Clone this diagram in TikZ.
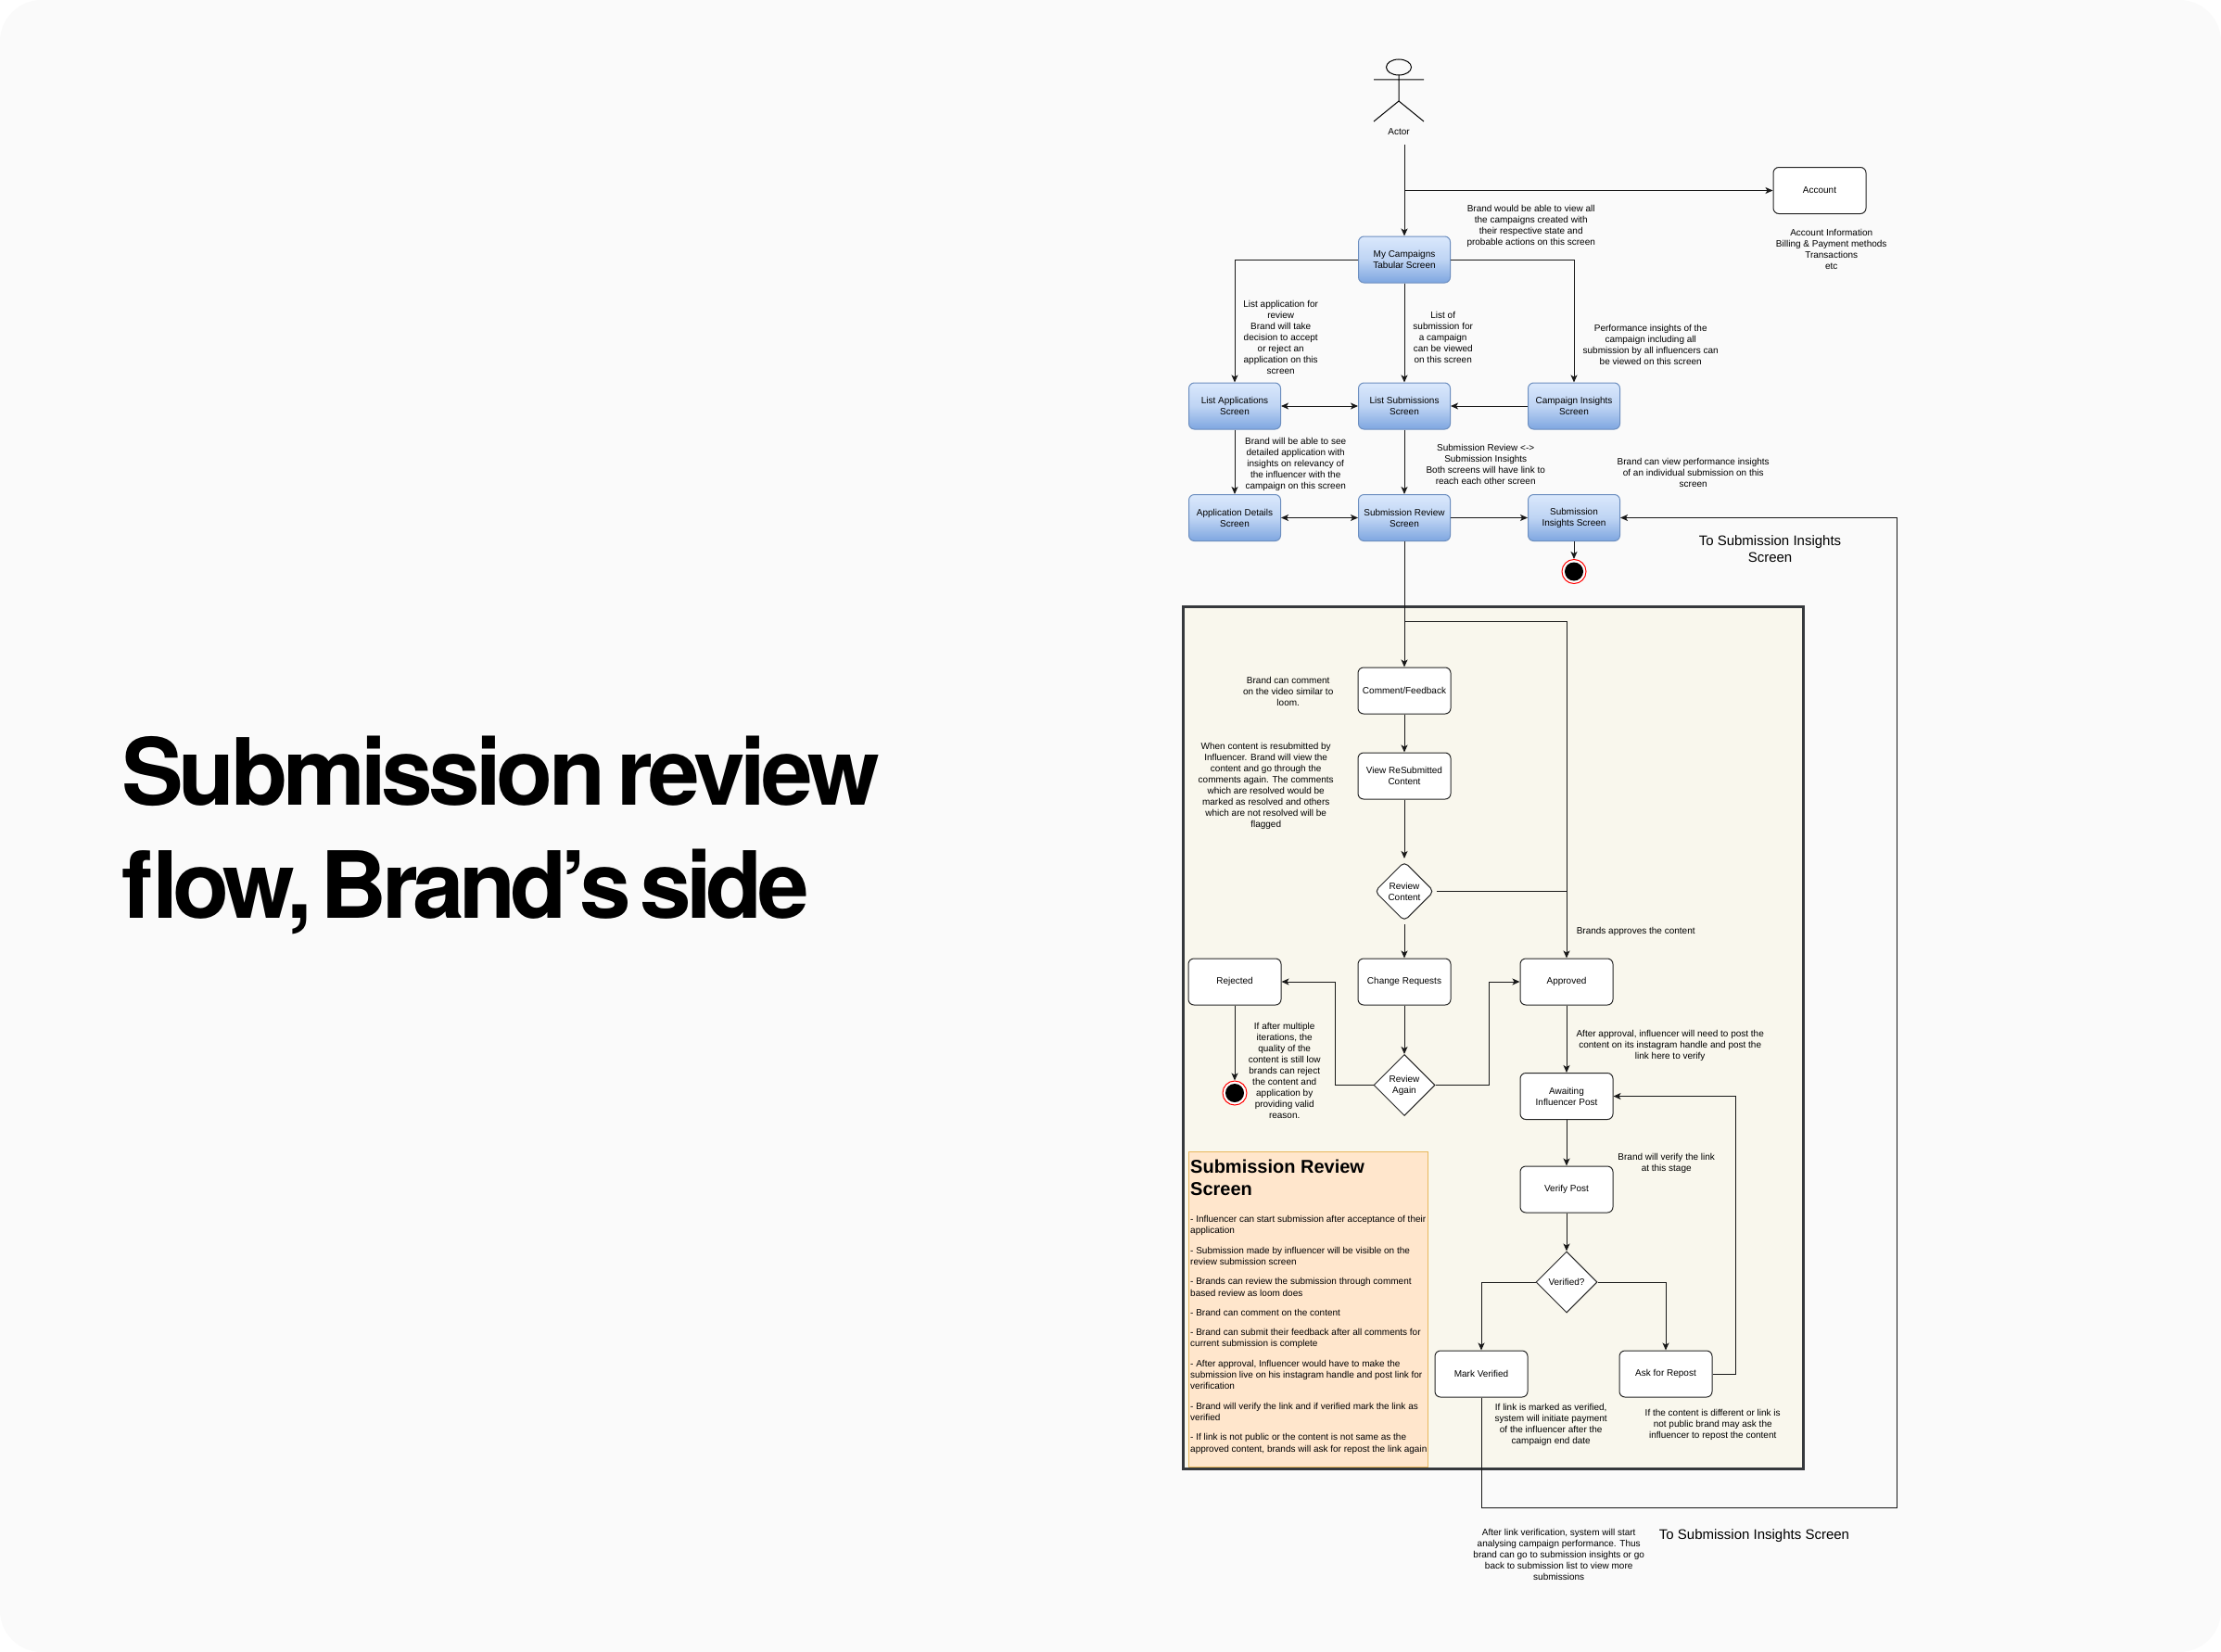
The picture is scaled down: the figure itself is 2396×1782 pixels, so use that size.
\documentclass[tikz,border=0pt]{standalone}
\usepackage{fontspec}
\setmainfont{Liberation Sans}
\newfontfamily\titlefont[LetterSpace=-5]{TeX Gyre Heros}
\newfontfamily\titletight[LetterSpace=-5.9]{TeX Gyre Heros}
\usetikzlibrary{arrows.meta,shapes.geometric}
\definecolor{pagebg}{HTML}{FAFAFA}
\definecolor{panelfill}{HTML}{F9F7ED}
\definecolor{panelline}{HTML}{36393D}
\definecolor{bluetop}{HTML}{DAE8FC}
\definecolor{bluebot}{HTML}{7EA6E0}
\definecolor{blueline}{HTML}{6C8EBF}
\definecolor{notefill}{HTML}{FFE6CC}
\definecolor{noteline}{HTML}{E8B85C}
\tikzset{
  txt/.style={inner sep=0pt,align=center,font=\fontsize{10}{12}\selectfont,text=black},
  remark/.style={txt,xshift=0.7pt,yshift=-0.5pt},
  bigtxt/.style={inner sep=0pt,align=center,font=\fontsize{15}{18}\selectfont,text=black,xshift=0.5pt,yshift=-0.5pt},
  screenbox/.style={txt,draw=blueline,line width=1pt,rounded corners=6pt,minimum width=99pt,minimum height=50pt,top color=bluetop,bottom color=bluebot,middle color=bluetop!70!bluebot},
  whitebox/.style={txt,draw=black!85,fill=white,line width=1pt,rounded corners=6pt,minimum width=100pt,minimum height=50pt},
  choice/.style={txt,shape=diamond,draw=black!85,fill=white,line width=1pt},
  flow/.style={-{Stealth[length=8pt,width=7pt,inset=2pt]},line width=1pt,draw=black!90},
  twoway/.style={{Stealth[length=8pt,width=7pt,inset=2pt]}-{Stealth[length=8pt,width=7pt,inset=2pt]},line width=1pt,draw=black!90},
  plain/.style={line width=1pt,draw=black!90},
  ring/.style={shape=circle,draw=red,fill=white,line width=1pt,minimum size=26pt,inner sep=0pt},
  dot/.style={shape=circle,fill=black,minimum size=20pt,inner sep=0pt},
}
\begin{document}
\begin{tikzpicture}[x=1pt,y=-1pt]
\useasboundingbox (0,0) rectangle (2396,1782);
\fill[white] (0,0) rectangle (2396,1782);
\fill[pagebg,rounded corners=45pt] (0,0) rectangle (2396,1782);

% title
\node[anchor=west,inner sep=0pt,align=left,font=\fontsize{100}{122}\selectfont\titlefont\bfseries,text=black] (title) at (131,901) {\spaceskip 12pt\relax Submission review\\\titletight\bfseries\spaceskip 9pt\relax flow, Brand’s side};

% panel
\node[draw=panelline,fill=panelfill,line width=3pt,minimum width=668.5pt,minimum height=930.5pt,inner sep=0pt] (panel) at (1610.75,1119.25) {};

% actor
\draw[line width=1pt] (1509,72.5) ellipse [x radius=13.5,y radius=8.5];
\draw[line width=1pt] (1509,81) -- (1509,109) (1482,86) -- (1536,86) (1482,131) -- (1509,109) -- (1536,131);
\node[txt] (actorlabel) at (1509,142) {Actor};
\coordinate (actorout) at (1515,156);
\coordinate (acctbranch) at (1515,205.5);

% top screens
\node[whitebox] (account) at (1963,205.5) {Account};
\node[screenbox] (campaigns) at (1515,280) {My Campaigns\\Tabular Screen};
\node[screenbox] (listapps) at (1332,438) {List Applications\\Screen};
\node[screenbox] (listsubs) at (1515,438) {List Submissions\\Screen};
\node[screenbox] (campinsights) at (1698,438) {Campaign Insights\\Screen};
\node[screenbox] (appdetails) at (1332,558.5) {Application Details\\Screen};
\node[screenbox] (subreview) at (1515,558.5) {Submission Review\\Screen};
\node[screenbox] (subinsights) at (1698,558.5) {Submission\\Insights Screen};
\node[ring] (endone) at (1698,616.5) {};
\node[dot] (endonedot) at (endone.center) {};

% panel nodes
\node[whitebox] (comment) at (1515,745) {Comment/Feedback};
\node[whitebox] (viewre) at (1515,837) {View ReSubmitted\\Content};
\node[choice,rounded corners=5pt,minimum width=64pt,minimum height=64pt] (reviewc) at (1515,961.5) {Review\\Content};
\node[whitebox] (changes) at (1515,1059) {Change Requests};
\node[whitebox] (rejected) at (1332,1059) {Rejected};
\node[whitebox] (approved) at (1690,1059) {Approved};
\node[choice,minimum width=66pt,minimum height=66pt] (reviewa) at (1515,1170.5) {Review\\Again};
\node[ring] (endtwo) at (1332,1179) {};
\node[dot] (endtwodot) at (endtwo.center) {};
\node[whitebox] (awaiting) at (1690,1182.5) {Awaiting\\Influencer Post};
\node[whitebox] (verify) at (1690,1283) {Verify Post};
\node[choice,minimum width=66pt,minimum height=66pt] (verified) at (1690,1383) {Verified?};
\node[whitebox] (markv) at (1598,1482) {Mark Verified};
\node[whitebox] (repost) at (1797,1482) {Ask for Repost};

% note box
\node[draw=noteline,fill=notefill,line width=1pt,minimum width=258pt,minimum height=340pt,inner sep=0pt] (notebox) at (1411,1412) {};
\node[anchor=north west,inner sep=0pt,align=left,font=\fontsize{20}{24}\selectfont\bfseries] (notehead) at (1284,1251) {Submission Review\\Screen};
\node[anchor=north west,inner sep=0pt,align=left,font=\fontsize{10}{12.4}\selectfont] (notebody) at (1284,1311) {%
- Influencer can start submission after acceptance of their\\application\\[8.8pt]
- Submission made by influencer will be visible on the\\review submission screen\\[8.8pt]
- Brands can review the submission through comment\\based review as loom does\\[8.8pt]
- Brand can comment on the content\\[8.8pt]
- Brand can submit their feedback after all comments for\\current submission is complete\\[8.8pt]
- After approval, Influencer would have to make the\\submission live on his instagram handle and post link for\\verification\\[8.8pt]
- Brand will verify the link and if verified mark the link as\\verified\\[8.8pt]
- If link is not public or the content is not same as the\\approved content, brands will ask for repost the link again};

% connectors
\draw[flow] (actorout) -- (campaigns.north);
\draw[flow] (acctbranch) -- (account.west);
\draw[flow] (campaigns.west) -| (listapps.north);
\draw[flow] (campaigns.south) -- (listsubs.north);
\draw[flow] (campaigns.east) -| (campinsights.north);
\draw[twoway] (listapps.east) -- (listsubs.west);
\draw[flow] (campinsights.west) -- (listsubs.east);
\draw[flow] (listapps.south) -- (appdetails.north);
\draw[flow] (listsubs.south) -- (subreview.north);
\draw[twoway] (appdetails.east) -- (subreview.west);
\draw[flow] (subreview.east) -- (subinsights.west);
\draw[flow] (subinsights.south) -- (endone.north);
\draw[flow] (subreview.south) -- (comment.north);
\coordinate (approvebranch) at (1515,670);
\draw[flow] (approvebranch) -| (approved.north);
\draw[flow] (comment.south) -- (viewre.north);
\draw[flow] (viewre.south) -- ([yshift=3pt]reviewc.north);
\coordinate (reviewjoin) at (approved.north |- reviewc.east);
\draw[plain] ([xshift=2pt]reviewc.east) -- (reviewjoin);
\draw[flow] ([yshift=-3pt]reviewc.south) -- (changes.north);
\draw[flow] (changes.south) -- (reviewa.north);
\coordinate (leftturn) at (1440,1059);
\coordinate (rightturn) at (1606,1059);
\draw[flow] (reviewa.west) -| (leftturn) -- (rejected.east);
\draw[flow] (reviewa.east) -| (rightturn) -- (approved.west);
\draw[flow] (rejected.south) -- (endtwo.north);
\draw[flow] (approved.south) -- (awaiting.north);
\draw[flow] (awaiting.south) -- (verify.north);
\draw[flow] (verify.south) -- (verified.north);
\draw[flow] (verified.west) -| (markv.north);
\draw[flow] (verified.east) -| (repost.north);
\coordinate (repostturn) at (1872.5,1482);
\draw[flow] (repost.east) -- (repostturn) |- (awaiting.east);
\coordinate (bottomleft) at (1598,1626);
\coordinate (bottomright) at (2046.5,1626);
\draw[flow] (markv.south) -- (bottomleft) -- (bottomright) |- (subinsights.east);

% annotations
\node[remark] (n1) at (1651,243) {Brand would be able to view all\\the campaigns created with\\their respective state and\\probable actions on this screen};
\node[remark] (n2) at (1975,268) {Account Information\\Billing \& Payment methods\\Transactions\\etc};
\node[remark] (n3) at (1381,363) {List application for\\review\\Brand will take\\decision to accept\\or reject an\\application on this\\screen};
\node[remark] (n4) at (1556,363.5) {List of\\submission for\\a campaign\\can be viewed\\on this screen};
\node[remark] (n5) at (1780,371) {Performance insights of the\\campaign including all\\submission by all influencers can\\be viewed on this screen};
\node[remark] (n6) at (1397,500.5) {Brand will be able to see\\detailed application with\\insights on relevancy of\\the influencer with the\\campaign on this screen};
\node[remark] (n7) at (1602,500) {Submission Review <->\\Submission Insights\\Both screens will have link to\\reach each other screen};
\node[remark] (n8) at (1826,509) {Brand can view performance insights\\of an individual submission on this\\screen};
\node[bigtxt] (n9) at (1909,592) {To Submission Insights\\Screen};
\node[remark] (n10) at (1389,745.5) {Brand can comment\\on the video similar to\\loom.};
\node[remark] (n11) at (1365,847.5) {When content is resubmitted by\\Influencer. Brand will view the\\content and go through the\\comments again. The comments\\which are resolved would be\\marked as resolved and others\\which are not resolved will be\\flagged};
\node[remark] (n12) at (1764,1004) {Brands approves the content};
\node[remark] (n13) at (1385,1154) {If after multiple\\iterations, the\\quality of the\\content is still low\\brands can reject\\the content and\\application by\\providing valid\\reason.};
\node[remark] (n14) at (1801,1127) {After approval, influencer will need to post the\\content on its instagram handle and post the\\link here to verify};
\node[remark] (n15) at (1797,1254) {Brand will verify the link\\at this stage};
\node[remark] (n16) at (1672.5,1536) {If link is marked as verified,\\system will initiate payment\\of the influencer after the\\campaign end date};
\node[remark] (n17) at (1847,1536) {If the content is different or link is\\not public brand may ask the\\influencer to repost the content};
\node[remark] (n18) at (1681,1676) {After link verification, system will start\\analysing campaign performance. Thus\\brand can go to submission insights or go\\back to submission list to view more\\submissions};
\node[bigtxt] (n19) at (1892,1656) {To Submission Insights Screen};
\end{tikzpicture}
\end{document}
